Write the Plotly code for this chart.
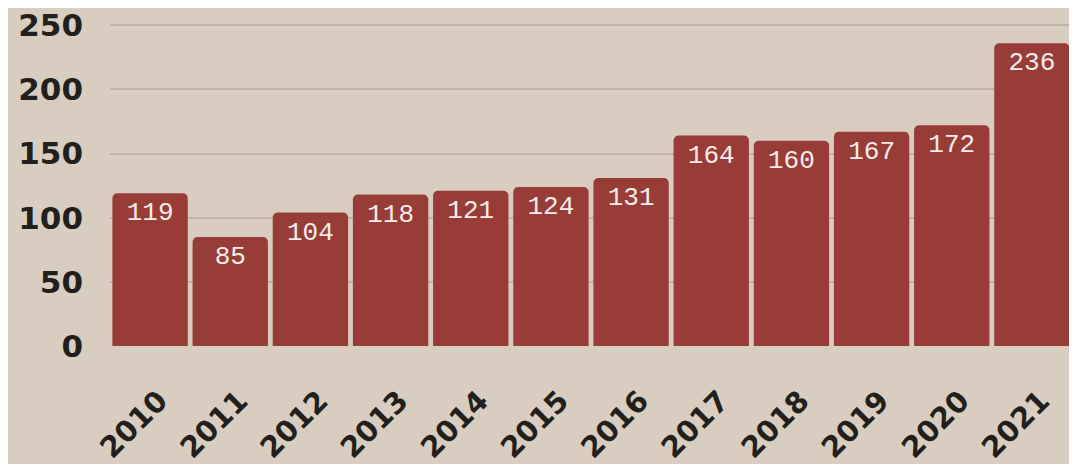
import plotly.graph_objects as go

years = ["2010", "2011", "2012", "2013", "2014", "2015", "2016", "2017", "2018", "2019", "2020", "2021"]
values = [119, 85, 104, 118, 121, 124, 131, 164, 160, 167, 172, 236]
y_ticks = [0, 50, 100, 150, 200, 250]

BG = "#d8cdbf"
BAR = "#983c38"
INK = "#231f1c"

fig = go.Figure(
    go.Bar(
        x=years,
        y=values,
        text=[str(v) for v in values],
        textposition="inside",
        insidetextanchor="end",
        textangle=0,
        textfont=dict(family="Liberation Mono", size=26, color="#f6ede8"),
        marker=dict(color=BAR, line=dict(width=0)),
        cliponaxis=False,
    )
)

fig.update_layout(
    width=1069,
    height=456,
    paper_bgcolor=BG,
    plot_bgcolor=BG,
    margin=dict(l=102, r=5, t=16, b=118, autoexpand=False),
    bargap=0.06,
    barcornerradius=5,
    showlegend=False,
    uniformtext=dict(minsize=20, mode="show"),
)

fig.update_xaxes(
    tickangle=-45,
    tickfont=dict(family="DejaVu Sans", size=29, color=INK, weight="bold"),
    showgrid=False,
    showline=False,
    ticks="",
    ticklabelstandoff=31,
    ticklabelshift=9,
    ticklabeloverflow="allow",
    automargin=False,
)

fig.update_yaxes(
    range=[0, 251],
    tickvals=y_ticks,
    tickfont=dict(family="DejaVu Sans", size=31, color=INK, weight="bold"),
    showgrid=True,
    gridcolor="#bfb3a5",
    gridwidth=2,
    zeroline=False,
    showline=False,
    ticks="",
    ticklabelstandoff=26,
    ticklabeloverflow="allow",
    automargin=False,
)

fig.write_html("out.html")
